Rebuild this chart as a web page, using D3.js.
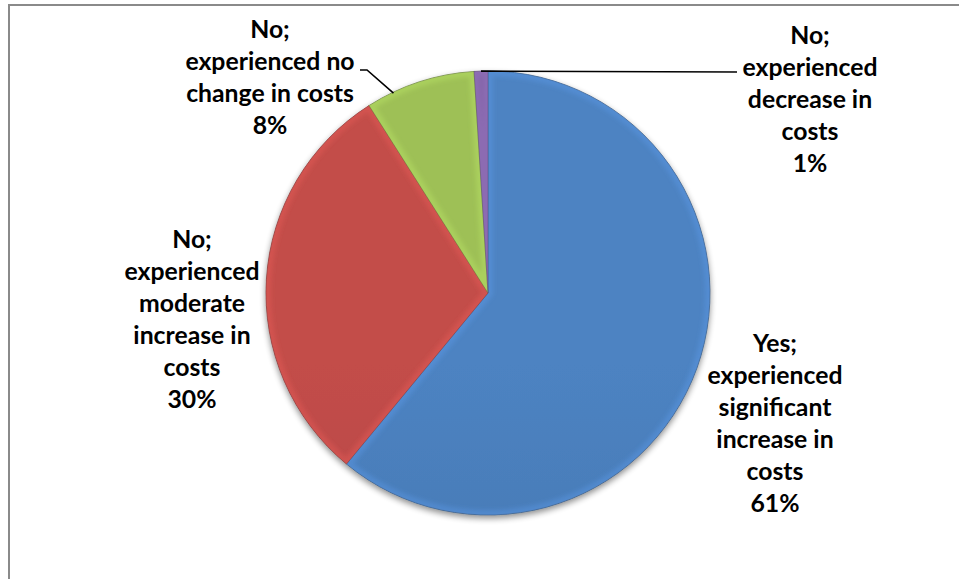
<!DOCTYPE html>
<html>
<head>
<meta charset="utf-8">
<script src="https://cdn.jsdelivr.net/npm/d3@7"></script>
<style>
  html, body { margin: 0; padding: 0; background: #fff; }
  svg { display: block; }
  .lbl { font-family: Lato, "Open Sans", sans-serif; font-weight: 700; fill: #000; }
</style>
</head>
<body>
<svg id="chart" width="959" height="579"></svg>
<script>
// Survey answers, in the order they run clockwise from 12 o'clock
const categories = [
  "Yes; experienced significant increase in costs",
  "No; experienced moderate increase in costs",
  "No; experienced no change in costs",
  "No; experienced decrease in costs"
];
const values = [61, 30, 8, 1];
// How each category name wraps in its data label
const labelLines = [
  ["Yes;", "experienced", "significant", "increase in", "costs"],
  ["No;", "experienced", "moderate", "increase in", "costs"],
  ["No;", "experienced no", "change in costs"],
  ["No;", "experienced", "decrease in", "costs"]
];
const colors = ["#4a7ebb", "#bc4a47", "#98b954", "#7d60a0"];

const W = 959, H = 579;
const cx = 488, cy = 293, R = 222;
const lineH = 32;

const svg = d3.select("#chart");
const defs = svg.append("defs");

// soft drop shadow under the pie
const sh = defs.append("filter").attr("id", "shadow")
  .attr("x", "-20%").attr("y", "-20%").attr("width", "140%").attr("height", "140%");
sh.append("feGaussianBlur").attr("in", "SourceAlpha").attr("stdDeviation", 3).attr("result", "b");
sh.append("feOffset").attr("in", "b").attr("dy", 3).attr("result", "o");
sh.append("feComponentTransfer").attr("in", "o").attr("result", "s")
  .append("feFuncA").attr("type", "linear").attr("slope", 0.45);
const shm = sh.append("feMerge");
shm.append("feMergeNode").attr("in", "s");
shm.append("feMergeNode").attr("in", "SourceGraphic");

// blur used for the bevelled rim
defs.append("filter").attr("id", "soft")
  .append("feGaussianBlur").attr("stdDeviation", 2);

// vertical shading per slice colour
colors.forEach((c, i) => {
  const g = defs.append("linearGradient").attr("id", "grad" + i)
    .attr("gradientUnits", "userSpaceOnUse")
    .attr("x1", 0).attr("y1", cy - R).attr("x2", 0).attr("y2", cy + R);
  g.append("stop").attr("offset", "0%").attr("stop-color", d3.color(c).brighter(0.1));
  g.append("stop").attr("offset", "100%").attr("stop-color", d3.color(c).darker(0.3));
});

// chart-area frame (only top and left edges fall inside the view)
svg.append("path")
  .attr("d", `M9,${H} L9,5 L${W},5`)
  .attr("fill", "none").attr("stroke", "#8a8a8a").attr("stroke-width", 2);

const pie = d3.pie().sort(null).startAngle(0).endAngle(2 * Math.PI);
const arcs = pie(values);
const arc = d3.arc().innerRadius(0).outerRadius(R);

const pieG = svg.append("g").attr("transform", `translate(${cx},${cy})`);
const shadowG = pieG.append("g").attr("filter", "url(#shadow)");

shadowG.selectAll("path.slice").data(arcs).join("path")
  .attr("class", "slice")
  .attr("d", arc)
  .attr("fill", (d, i) => `url(#grad${i})`)
  .attr("stroke", (d, i) => d3.color(colors[i]).darker(1.4))
  .attr("stroke-width", 0.7)
  .attr("stroke-linejoin", "round");

// bevel: a light blurred rim inside every slice
arcs.forEach((d, i) => {
  defs.append("clipPath").attr("id", "clip" + i)
    .append("path").attr("d", arc(d)).attr("transform", `translate(${cx},${cy})`);
  svg.append("g").attr("clip-path", `url(#clip${i})`)
    .append("path")
    .attr("transform", `translate(${cx},${cy})`)
    .attr("d", arc(d))
    .attr("fill", "none")
    .attr("stroke", d3.color(colors[i]).brighter(0.6))
    .attr("stroke-opacity", 0.4)
    .attr("stroke-width", 10)
    .attr("stroke-linejoin", "round")
    .attr("filter", "url(#soft)");
});

// pick the font size so the label text has the intended width
const probe = svg.append("text").attr("class", "lbl").style("font-size", "100px").text("experienced");
const probeW = probe.node().getComputedTextLength();
probe.remove();
const fontSize = 100 * 135 / probeW;

// label centres (x) and first-line centres (y)
const labelAnchor = [
  [775, 343],
  [192, 239],
  [270, 29],
  [810, 35]
];

const fmt = v => d3.format("d")(v) + "%";

arcs.forEach((d, i) => {
  const lines = labelLines[i].concat([fmt(values[i])]);
  const [lx, ly] = labelAnchor[i];
  const t = svg.append("text").attr("class", "lbl")
    .attr("text-anchor", "middle")
    .style("font-size", fontSize + "px");
  lines.forEach((s, k) => {
    t.append("tspan").attr("x", lx).attr("y", ly + k * lineH).attr("dy", "0.36em").text(s);
  });
});

// leader lines for the two thin slices
const edgePoint = (d, frac) => {
  const a = d.startAngle + (d.endAngle - d.startAngle) * frac;
  return [cx + R * Math.sin(a), cy - R * Math.cos(a)];
};
const pG = edgePoint(arcs[2], 0.25);
const pP = edgePoint(arcs[3], 0.5);
const line = d3.line();
svg.append("path")
  .attr("d", line([[360, 70], [367, 70], [pG[0], pG[1] + 1]]))
  .attr("fill", "none").attr("stroke", "#000").attr("stroke-width", 1.6);
svg.append("path")
  .attr("d", line([[pP[0], pP[1]], [737, 72]]))
  .attr("fill", "none").attr("stroke", "#000").attr("stroke-width", 1.6);
</script>
</body>
</html>
